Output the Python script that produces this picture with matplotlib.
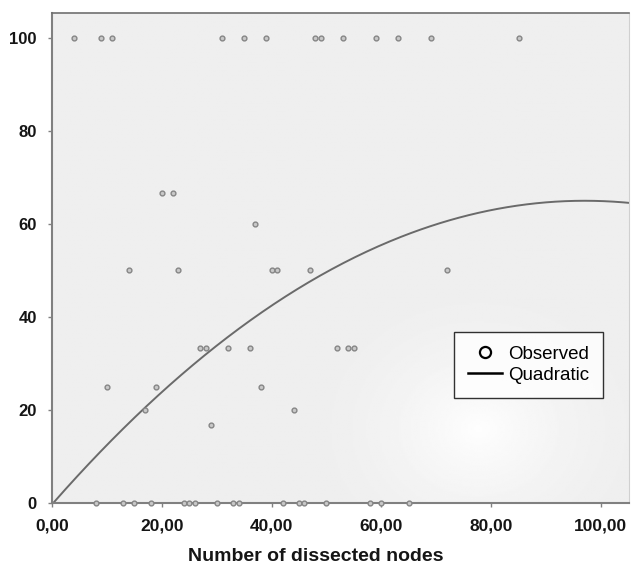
import numpy as np
import matplotlib
matplotlib.use("Agg")
import matplotlib.pyplot as plt

plt.rcParams['font.family'] = ['Liberation Sans', 'DejaVu Sans']

# observed points, grouped by their y value
y_levels = [100, 66.67, 60, 50, 33.33, 25, 20, 16.67, 0]
x_groups = [
    [4, 9, 11, 31, 35, 39, 48, 49, 53, 59, 63, 69, 85],
    [20, 22],
    [37],
    [14, 23, 40, 41, 47, 72],
    [27, 28, 32, 36, 52, 54, 55],
    [10, 19, 38],
    [17, 44],
    [29],
    [8, 13, 15, 18, 24, 25, 26, 30, 33, 34, 42, 45, 46, 50, 58, 60, 65],
]

# quadratic fit: y = c0 + c1*x + c2*x^2
c0, c1, c2 = -0.3, 1.345, -0.00693

xticks = [0, 20, 40, 60, 80, 100]
xtick_labels = ['0,00', '20,00', '40,00', '60,00', '80,00', '100,00']
yticks = [0, 20, 40, 60, 80, 100]

xs = np.concatenate([np.array(g, float) for g in x_groups])
ys = np.concatenate([np.full(len(g), lv) for g, lv in zip(x_groups, y_levels)])

fig = plt.figure(figsize=(6.32, 5.69), dpi=100)
ax = fig.add_axes([0.0823, 0.116, 0.9127, 0.861])
ax.set_xlim(0, 105.1)
ax.set_ylim(0, 105.3)

# soft light patch in the lower right of the plot background
gx, gy = np.meshgrid(np.linspace(0, 1, 300), np.linspace(0, 1, 300))
d = np.sqrt(((gx - 0.74) / 0.27) ** 2 + ((gy - 0.15) / 0.27) ** 2)
glow = np.clip(1 - d, 0, 1) ** 1.5
bg = 0.937 + 0.058 * glow
ax.imshow(bg, cmap='gray', vmin=0, vmax=1, extent=[0, 1, 0, 1],
          origin='lower', transform=ax.transAxes, aspect='auto', zorder=0,
          interpolation='bilinear')

ax.scatter(xs, ys, s=12, facecolors='#c8c8c8', edgecolors='#858585',
           linewidths=1.0, zorder=3, clip_on=False)
ax.plot([], [], 'o', ms=8, mfc='none', mec='black', mew=1.6, ls='none',
        label='Observed')

xc = np.linspace(0, 105.1, 300)
ax.plot(xc, c0 + c1 * xc + c2 * xc ** 2, color='#6a6a6a', lw=1.4, zorder=2)
ax.plot([], [], color='black', lw=1.8, label='Quadratic')

ax.set_xticks(xticks)
ax.set_xticklabels(xtick_labels)
ax.set_yticks(yticks)
ax.tick_params(direction='out', length=3, width=1, color='#808080',
               labelsize=12, pad=8)
ax.tick_params(axis='x', labelsize=12.5)
for lab in ax.get_xticklabels() + ax.get_yticklabels():
    lab.set_fontweight('bold')
    lab.set_color('#151515')

for side in ['left', 'bottom']:
    ax.spines[side].set_color('#808080')
    ax.spines[side].set_linewidth(1.5)
ax.spines['top'].set_color('#707070')
ax.spines['top'].set_linewidth(1.2)
ax.spines['right'].set_color('#d0d0d0')

ax.set_xlabel('Number of dissected nodes', fontsize=14, fontweight='bold',
              color='#151515')
ax.xaxis.set_label_coords(0.457, -0.092)

leg = ax.legend(loc='upper right', bbox_to_anchor=(0.955, 0.35), fontsize=13.5,
                frameon=True, fancybox=False, handlelength=1.8,
                handletextpad=0.3, borderpad=0.75, labelspacing=0.2,
                borderaxespad=0, markerfirst=True)
leg.get_frame().set_edgecolor('black')
leg.get_frame().set_linewidth(1.0)
leg.get_frame().set_facecolor('white')

fig.patch.set_facecolor('white')
fig.savefig('out.png', dpi=100)
